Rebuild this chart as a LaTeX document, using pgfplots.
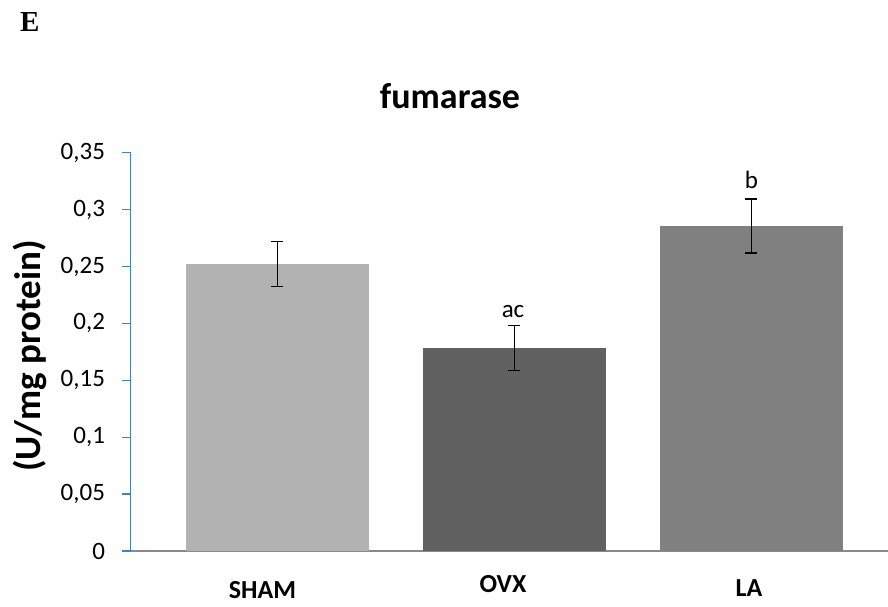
\documentclass[border=0pt]{standalone}
\usepackage{pgfplots}
\pgfplotsset{compat=1.18}
\usepackage{fontspec}
\setmainfont{Carlito}
\newfontfamily\timesfont{Liberation Serif}
\definecolor{sham}{HTML}{B2B2B2}
\definecolor{ovx}{HTML}{616161}
\definecolor{la}{HTML}{808080}
\definecolor{yaxis}{HTML}{4A7EBB}
\definecolor{xaxis}{HTML}{898989}
\begin{document}
\begin{tikzpicture}[x=1pt,y=1pt]
\begin{axis}[
  at={(130.7pt,56pt)}, anchor=south west,
  scale only axis, width=757.3pt, height=398.3pt,
  xmin=-0.619, xmax=2.576, ymin=0, ymax=0.35,
  axis lines=left, axis line style={-},
  x axis line style={draw=xaxis, line width=1.2pt},
  y axis line style={draw=yaxis, line width=1.2pt},
  xtick=\empty,
  ytick={0,0.05,0.1,0.15,0.2,0.25,0.3,0.35},
  ytick style={draw=yaxis, line width=1.2pt},
  tick align=outside, major tick length=8.5pt,
  /pgf/number format/use comma,
  /pgf/number format/fixed,
  /pgf/number format/precision=2,
  /pgf/number format/assume math mode=true,
  yticklabel style={font=\fontsize{25}{30}\selectfont, anchor=east, inner sep=0pt, xshift=-17pt},
  clip=false,
]
\addplot[ybar, bar width=183pt, bar shift=0pt, fill=sham, draw=none,
  error bars/.cd, y dir=both, y explicit,
  error bar style={line width=1.4pt, black},
  error mark options={rotate=90, mark size=6pt, line width=1.4pt, black}]
  coordinates {(0,0.2522) +- (0,0.0198)};
\addplot[ybar, bar width=183pt, bar shift=0pt, fill=ovx, draw=none,
  error bars/.cd, y dir=both, y explicit,
  error bar style={line width=1.4pt, black},
  error mark options={rotate=90, mark size=6pt, line width=1.4pt, black}]
  coordinates {(1,0.1784) +- (0,0.0197)};
\addplot[ybar, bar width=183pt, bar shift=0pt, fill=la, draw=none,
  error bars/.cd, y dir=both, y explicit,
  error bar style={line width=1.4pt, black},
  error mark options={rotate=90, mark size=6pt, line width=1.4pt, black}]
  coordinates {(2,0.2856) +- (0,0.0236)};
\node[anchor=base, font=\fontsize{25}{30}\selectfont] at (axis cs:0.994,0.205) {ac};
\node[anchor=base, font=\fontsize{25}{30}\selectfont] at (axis cs:2,0.3187) {b};
\end{axis}
\node[anchor=base, font=\bfseries\fontsize{36}{42}\selectfont] at (450,498) {fumarase};
\node[rotate=90, anchor=base, font=\bfseries\fontsize{37}{42}\selectfont] at (40,251) {(U/mg protein)};
\node[anchor=base, font=\bfseries\fontsize{26}{30}\selectfont] at (262.5,8) {SHAM};
\node[anchor=base, font=\bfseries\fontsize{26}{30}\selectfont] at (503,14) {OVX};
\node[anchor=base, font=\bfseries\fontsize{26}{30}\selectfont] at (749,10) {LA};
\node[anchor=base west, inner sep=0pt, font=\timesfont\bfseries\fontsize{29}{32}\selectfont] at (20,575.3) {E};
\pgfresetboundingbox
\path[use as bounding box] (0,0) rectangle (888,607);
\end{tikzpicture}
\end{document}
